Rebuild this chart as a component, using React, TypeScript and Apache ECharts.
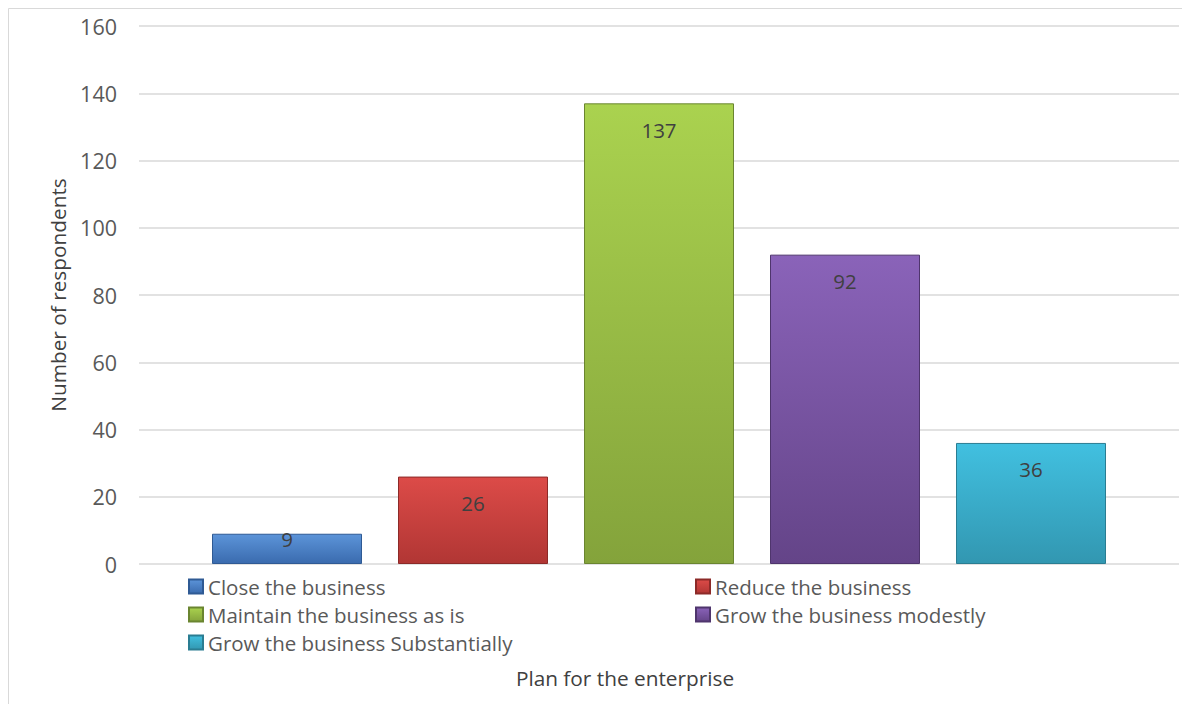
import React, { useEffect, useRef } from "react";
import * as echarts from "echarts";

const seriesNames = [
  "Close the business",
  "Reduce the business",
  "Maintain the business as is",
  "Grow the business modestly",
  "Grow the business Substantially",
];
const seriesValues = [9, 26, 137, 92, 36];
const topColors = ["#5c94d9", "#dc4b48", "#aad24f", "#8a63b9", "#41c0e0"];
const bottomColors = ["#3a6bae", "#b13634", "#84a33b", "#644488", "#3297b1"];
const borderColors = ["#2f5a94", "#8c2a28", "#6a8530", "#4f356d", "#2a7d92"];
const yTicks = { min: 0, max: 160, interval: 20 };
const categories = [""];
const xTitle = "Plan for the enterprise";
const yTitle = "Number of respondents";

const legendPos = [
  { left: 188, top: 576 },
  { left: 695, top: 576 },
  { left: 188, top: 604 },
  { left: 695, top: 604 },
  { left: 188, top: 632 },
];

export default function App() {
  const ref = useRef<HTMLDivElement>(null);
  useEffect(() => {
    if (!ref.current) return;
    const chart = echarts.init(ref.current, null, { renderer: "svg" });
    const font = "'Open Sans', sans-serif";
    const series = seriesNames.map((name, i) => ({
      name,
      type: "bar",
      data: [seriesValues[i]],
      barWidth: 150,
      barGap: "24%",
      itemStyle: {
        color: new echarts.graphic.LinearGradient(0, 0, 0, 1, [
          { offset: 0, color: topColors[i] },
          { offset: 1, color: bottomColors[i] },
        ]),
        borderColor: borderColors[i],
        borderWidth: 1,
      },
      label: {
        show: true,
        position: "insideTop",
        distance: i === 0 ? -5 : 16,
        color: "#404040",
        fontSize: 20.5,
        fontFamily: font,
      },
    }));
    chart.setOption({
      animation: false,
      backgroundColor: "#ffffff",
      textStyle: { fontFamily: font },
      graphic: [
        {
          type: "rect",
          shape: { x: 8.5, y: 8.5, width: 1200, height: 720 },
          style: { fill: "none", stroke: "#d9d9d9", lineWidth: 1 },
          silent: true,
        },
        {
          type: "text",
          x: 625,
          y: 678,
          style: {
            text: xTitle,
            fill: "#404040",
            fontSize: 20.8,
            fontFamily: font,
            textAlign: "center",
            textVerticalAlign: "middle",
          },
        },
      ],
      legend: seriesNames.map((n, i) => ({
        data: [n],
        left: legendPos[i].left,
        top: legendPos[i].top,
        padding: 0,
        itemWidth: 14,
        itemHeight: 14,
        icon: "rect",
        selectedMode: false,
        textStyle: { fontSize: 20.5, color: "#595959", fontFamily: font },
      })),
      grid: { left: 139, right: 3, top: 26, bottom: 140, containLabel: false },
      xAxis: {
        type: "category",
        data: categories,
        axisLine: { show: false },
        axisTick: { show: false },
        axisLabel: { show: false },
      },
      yAxis: {
        type: "value",
        min: yTicks.min,
        max: yTicks.max,
        interval: yTicks.interval,
        name: yTitle,
        nameLocation: "middle",
        nameGap: 71,
        nameTextStyle: { fontSize: 20.8, color: "#404040", fontFamily: font },
        axisLine: { show: false },
        axisTick: { show: false },
        axisLabel: { fontSize: 21.5, color: "#595959", margin: 22, fontFamily: font },
        splitLine: { lineStyle: { color: "#d9d9d9", width: 1.5 } },
      },
      series,
    });
    return () => chart.dispose();
  }, []);
  return (
    <div
      ref={ref}
      style={{ position: "absolute", left: 0, top: 0, width: 1182, height: 704 }}
    />
  );
}
